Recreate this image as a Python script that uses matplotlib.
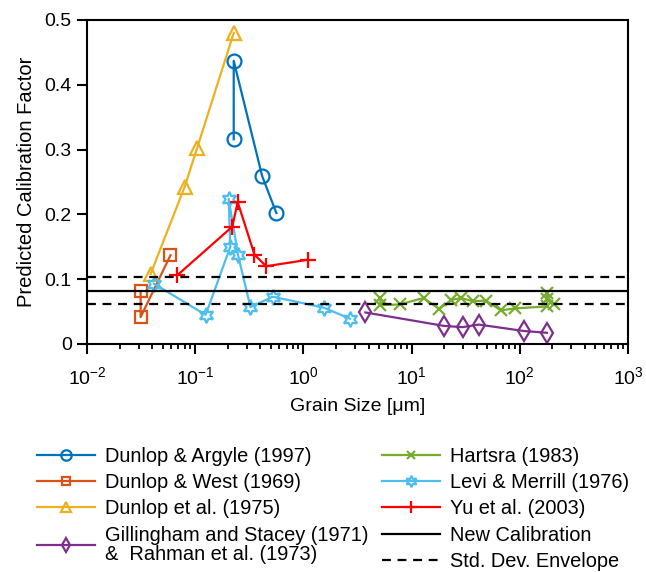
import matplotlib
matplotlib.use('Agg')
import matplotlib.pyplot as plt

plt.rcParams['font.family'] = ['Liberation Sans', 'DejaVu Sans']
plt.rcParams['mathtext.fontset'] = 'custom'
plt.rcParams['mathtext.rm'] = 'Liberation Sans'
plt.rcParams['mathtext.it'] = 'Liberation Sans:italic'

# grain size [um] and calibration factor for each study
argyle_x = [0.227, 0.227, 0.416, 0.563]
argyle_y = [0.316, 0.437, 0.259, 0.202]

west_x = [0.0313, 0.0313, 0.0591]
west_y = [0.0817, 0.0415, 0.137]

dunlop75_x = [0.0387, 0.0797, 0.104, 0.227]
dunlop75_y = [0.108, 0.242, 0.302, 0.480]

gill_x = [3.74, 19.8, 29.6, 41.6, 110, 178]
gill_y = [0.0487, 0.028, 0.026, 0.030, 0.020, 0.0173]

hart_x = [5.14, 5.14, 7.75, 12.9, 18.0, 23.3, 28.6, 36.6, 48.6, 66.8, 90.7, 178, 178, 178, 208]
hart_y = [0.071, 0.060, 0.061, 0.071, 0.054, 0.068, 0.071, 0.066, 0.067, 0.052, 0.055,
          0.058, 0.078, 0.070, 0.061]

levi_x = [0.0415, 0.125, 0.211, 0.204, 0.249, 0.324, 0.521, 1.55, 2.7]
levi_y = [0.093, 0.045, 0.150, 0.224, 0.137, 0.057, 0.073, 0.056, 0.039]

yu_x = [0.0682, 0.220, 0.247, 0.353, 0.452, 1.10]
yu_y = [0.106, 0.181, 0.219, 0.138, 0.120, 0.130]

new_cal = 0.082
std_lo, std_hi = 0.061, 0.103

y_ticks = [0, 0.1, 0.2, 0.3, 0.4, 0.5]
y_tick_labels = ['0', '0.1', '0.2', '0.3', '0.4', '0.5']

fig = plt.figure(figsize=(6.46, 5.72), dpi=100)
ax = fig.add_axes([87 / 646, 1 - 344 / 572, 541 / 646, 324 / 572])

lw = 1.6
mew = 1.6

series = [
    (argyle_x, argyle_y, '#0072BD', 'o', 10, 'Dunlop & Argyle (1997)'),
    (west_x, west_y, '#D95319', 's', 8.5, 'Dunlop & West (1969)'),
    (dunlop75_x, dunlop75_y, '#EDB120', '^', 10.5, 'Dunlop et al. (1975)'),
    (gill_x, gill_y, '#7E2F8E', 'd', 10, 'Gillingham and Stacey (1971)\n&  Rahman et al. (1973)'),
    (hart_x, hart_y, '#77AC30', 'x', 8, 'Hartsra (1983)'),
    (levi_x, levi_y, '#4DBEEE', (6, 1, 0), 11, 'Levi & Merrill (1976)'),
    (yu_x, yu_y, '#FF0000', '+', 12, 'Yu et al. (2003)'),
]

handles = []
for x, y, c, m, size, label in series:
    h, = ax.plot(x, y, color=c, marker=m, markersize=size, markerfacecolor='none',
                 markeredgecolor=c, markeredgewidth=mew, linewidth=lw, label=label)
    handles.append(h)

h_new = ax.axhline(new_cal, color='black', linewidth=lw, label='New Calibration')
ax.axhline(std_hi, color='black', linewidth=lw, linestyle=(0, (4, 3)))
h_std = ax.axhline(std_lo, color='black', linewidth=lw, linestyle=(0, (4, 3)),
                   label='Std. Dev. Envelope')

ax.set_xscale('log')
ax.set_xlim(1e-2, 1e3)
ax.set_ylim(0, 0.5)
ax.set_yticks(y_ticks)
ax.set_yticklabels(y_tick_labels)

for s in ax.spines.values():
    s.set_linewidth(1.5)
ax.tick_params(which='major', direction='out', length=7, width=1.5, labelsize=14)
ax.tick_params(axis='x', which='major', pad=9)
ax.tick_params(axis='y', which='major', pad=4)
ax.tick_params(which='minor', direction='out', length=3.5, width=1.3)
ax.tick_params(axis='y', which='minor', left=False)

ax.set_xlabel('Grain Size [μm]', fontsize=14, labelpad=7)
ax.set_ylabel('Predicted Calibration Factor', fontsize=14.5, labelpad=6)

leg_kw = dict(frameon=False, fontsize=14.4, handlelength=2.9, handletextpad=0.5,
              borderpad=0, borderaxespad=0, labelspacing=0.36, numpoints=1,
              markerscale=0.75)

top = 1 - 447 / 572
leg1 = fig.legend(handles=handles[:4], loc='upper left',
                  bbox_to_anchor=(37 / 646, top), **leg_kw)
for t in leg1.get_texts():
    t.set_linespacing(1.0)
leg2 = fig.legend(handles=handles[4:] + [h_new, h_std], loc='upper left',
                  bbox_to_anchor=(382 / 646, top), **leg_kw)

fig.savefig('out.png', dpi=100)
